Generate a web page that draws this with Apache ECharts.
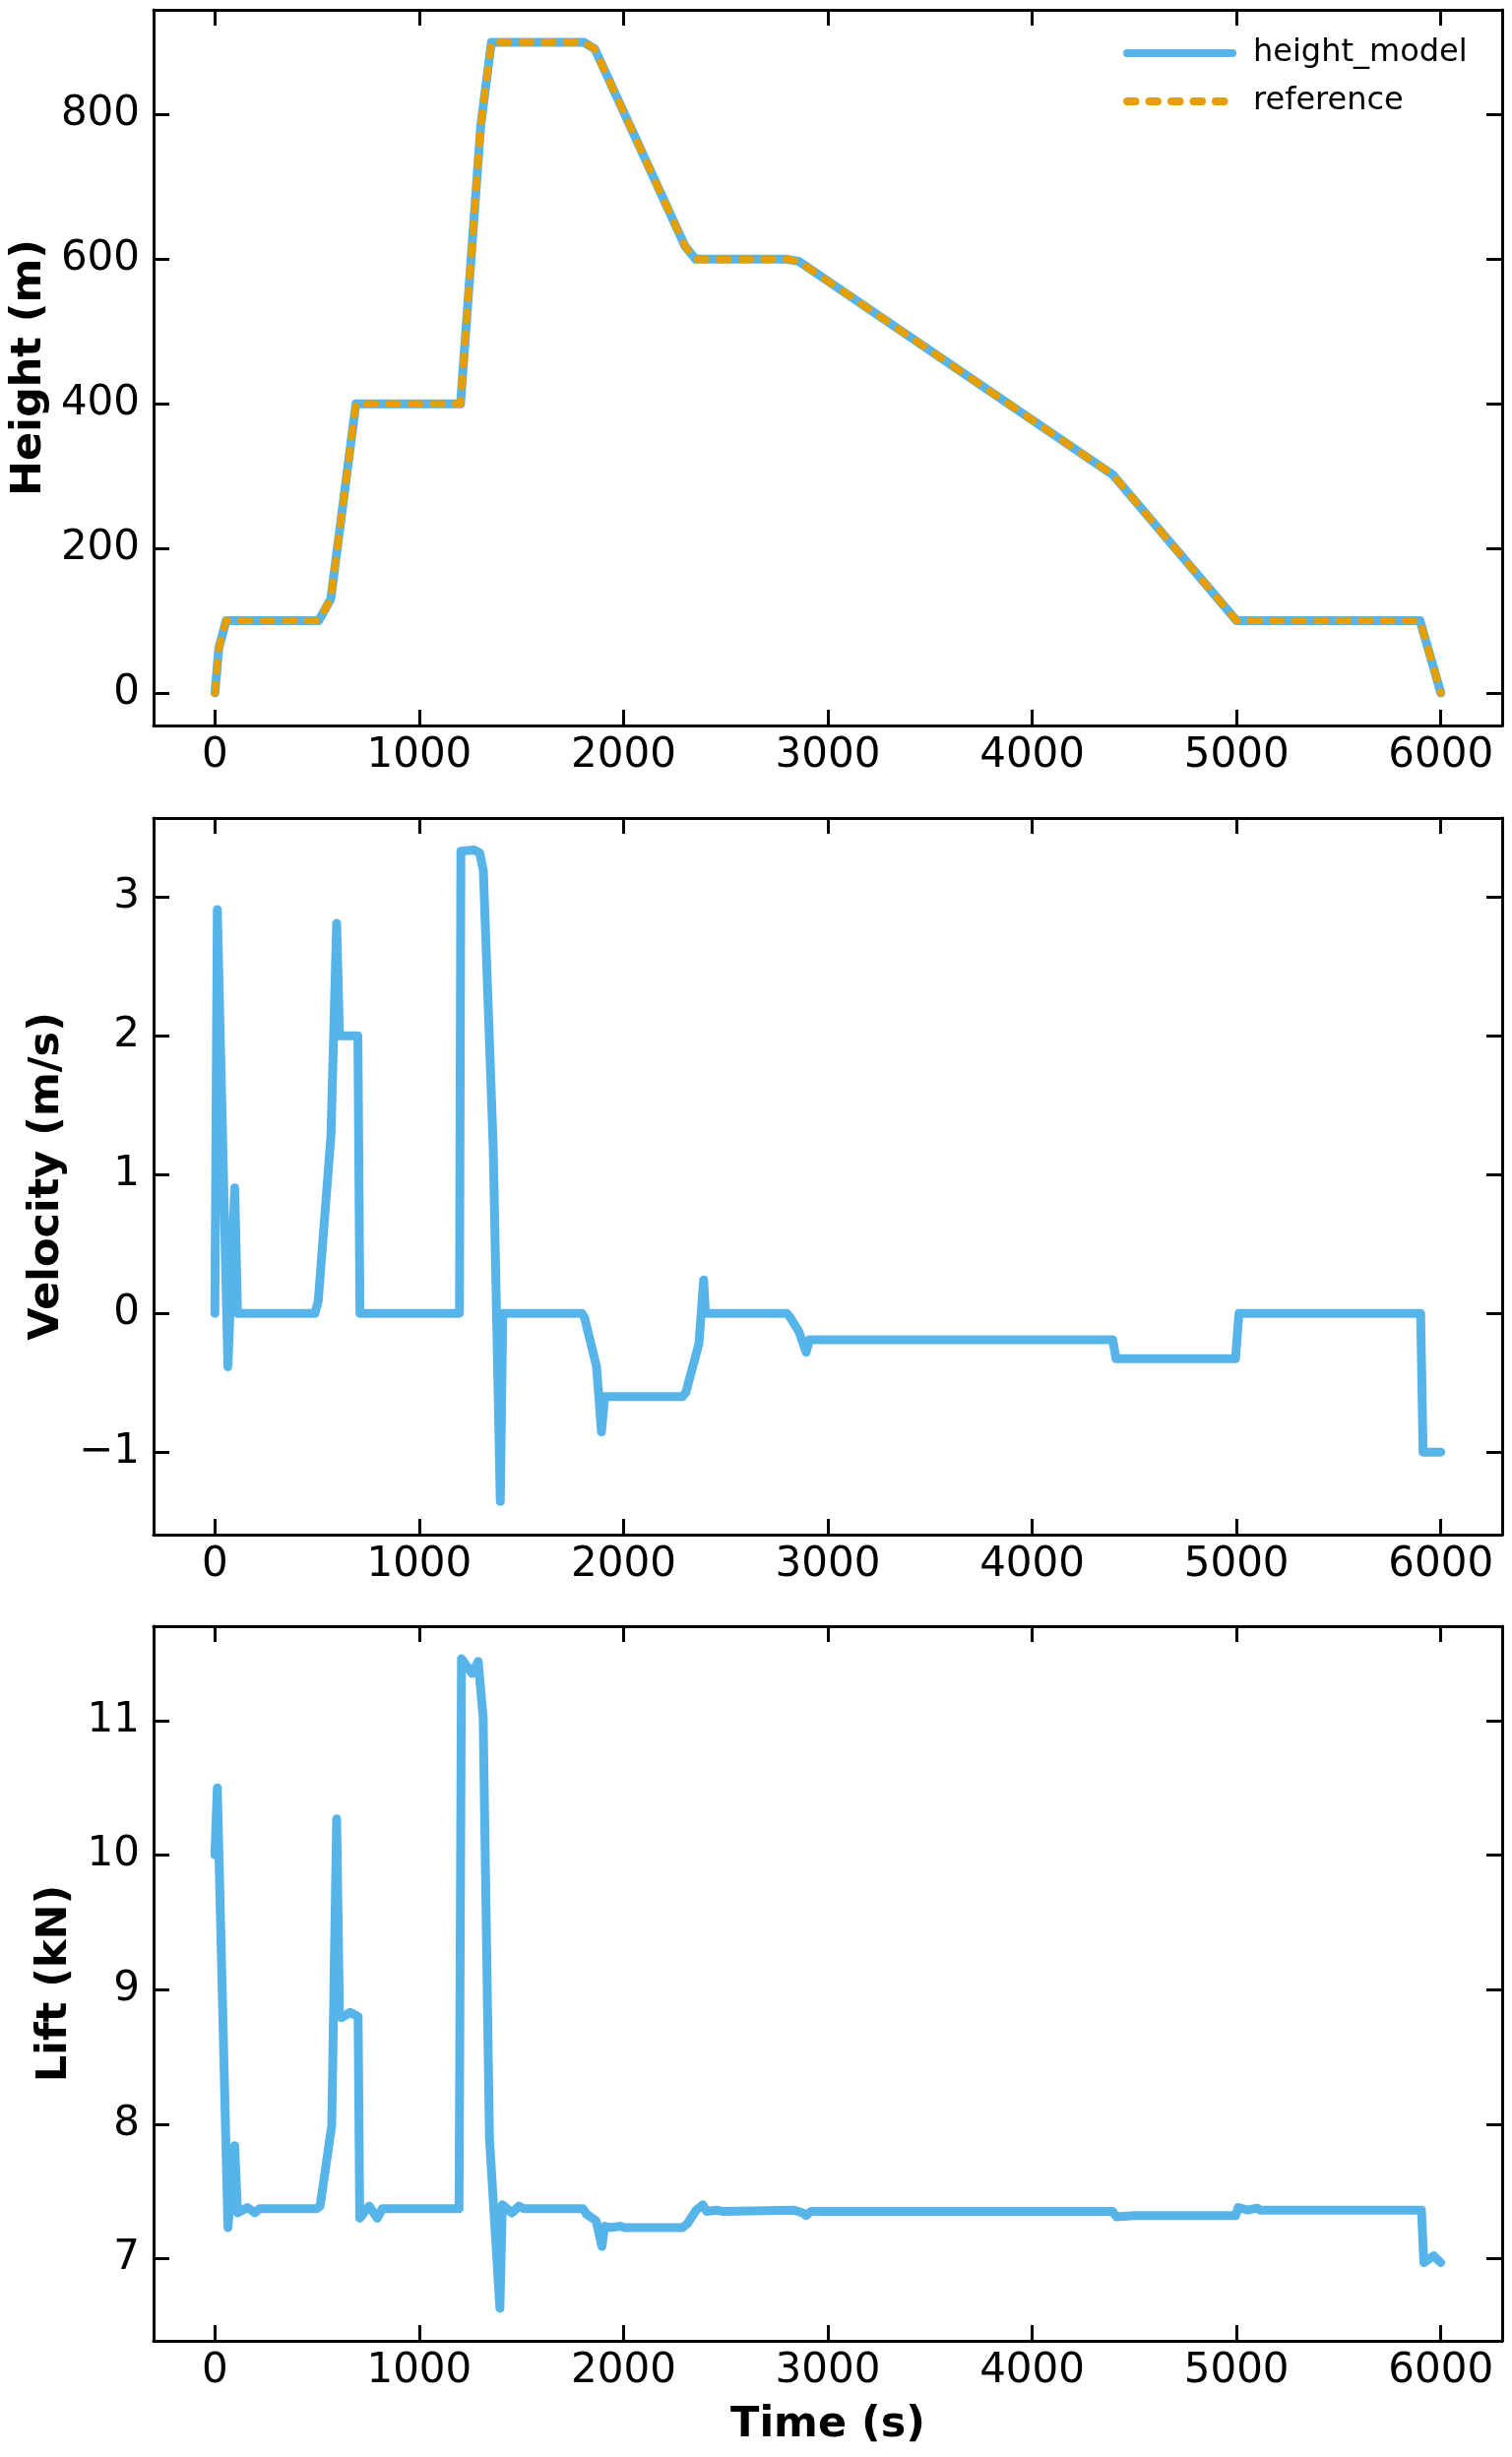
<!DOCTYPE html>
<html>
<head>
<meta charset="utf-8">
<script src="https://cdn.jsdelivr.net/npm/echarts@6/dist/echarts.min.js"></script>
<style>
  html, body { margin: 0; padding: 0; background: #fff; }
  #chart { width: 1536px; height: 2496px; }
</style>
</head>
<body>
<div id="chart"></div>
<script>
// 高度曲线（模型与参考）
const heightTime = [0, 19, 55, 508, 567, 690, 1202, 1301, 1353, 1807, 1859, 2301, 2353, 2799, 2858, 4394, 5000, 5898, 6000];
const heightRef = [0, 62, 100, 100, 130, 400, 400, 785, 900, 900, 891, 618, 600, 600, 597, 302, 100, 100, 0];
const heightModel = [0, 62, 100, 100, 130, 400, 400, 785, 900, 900, 891, 618, 600, 600, 597, 302, 100, 100, 0];

// 速度
const velTime = [0, 12, 64, 97, 111, 490, 506, 568, 596, 610, 700, 710, 1197, 1204, 1267, 1296, 1314, 1362, 1397, 1409,
  1797, 1809, 1868, 1892, 1908, 2288, 2305, 2369, 2392, 2401, 2799, 2816, 2858, 2894, 2910, 4394, 4410, 4995, 5012, 5901,
  5913, 6000];
const velocity = [0, 2.91, -0.385, 0.905, 0, 0, 0.09, 1.28, 2.81, 2.0, 2.0, 0, 0, 3.33, 3.34, 3.32, 3.19, 1.21, -1.356, 0,
  0, -0.03, -0.385, -0.855, -0.6, -0.6, -0.57, -0.22, 0.24, 0, 0, -0.03, -0.13, -0.28, -0.19, -0.19, -0.326, -0.326, 0, 0,
  -1, -1];

// 升力
const liftTime = [0, 12, 20, 64, 97, 111, 160, 195, 219, 497, 515, 572, 596, 610, 620, 661, 701, 709, 755, 795,
  819, 1195, 1207, 1259, 1289, 1313, 1344, 1395, 1407, 1454, 1489, 1513, 1802, 1819, 1866, 1894, 1908, 1936, 1983, 2007,
  2289, 2313, 2355, 2388, 2407, 2454, 2489, 2835, 2877, 2894, 2917, 4394, 4413, 4500, 4996, 5008, 5055, 5102, 5113, 5905,
  5917, 5965, 6000];
const lift = [10.0, 10.5, 10.0, 7.23, 7.84, 7.34, 7.38, 7.34, 7.37, 7.37, 7.39, 7.99, 10.27, 8.80, 8.79, 8.83, 8.80, 7.30, 7.39, 7.30,
  7.37, 7.37, 11.46, 11.35, 11.44, 11.02, 7.89, 6.63, 7.40, 7.34, 7.39, 7.37, 7.37, 7.33, 7.28, 7.09, 7.24, 7.23, 7.24, 7.23,
  7.23, 7.26, 7.36, 7.40, 7.35, 7.36, 7.35, 7.36, 7.34, 7.32, 7.35, 7.35, 7.31, 7.32, 7.32, 7.38, 7.36, 7.375, 7.36, 7.36,
  6.97, 7.02, 6.97];

// 刻度
const timeTicks = [0, 1000, 2000, 3000, 4000, 5000, 6000];
const heightTicks = [0, 200, 400, 600, 800];
const velTicks = [-1, 0, 1, 2, 3];
const liftTicks = [7, 8, 9, 10, 11];

const FONT = 'DejaVu Sans';
const BLUE = '#56B4E9';
const ORANGE = '#E69F00';
const DASH = [8.5, 14];

function pairs(xs, ys) {
  return xs.map((x, i) => [x, ys[i]]);
}

// 负号用 unicode minus
function fmt(v) {
  return String(v).replace('-', '\u2212');
}

const lineAxis = { show: true, onZero: false, lineStyle: { color: '#000', width: 3 } };

function makeX(gridIndex, position, showLabel, name) {
  return {
    type: 'value', gridIndex: gridIndex, position: position,
    min: -300, max: 6300,
    axisLine: lineAxis,
    axisTick: { show: true, inside: true, length: 16, lineStyle: { color: '#000', width: 3 }, customValues: timeTicks },
    axisLabel: { show: showLabel, customValues: timeTicks, formatter: fmt, color: '#000', fontFamily: FONT, fontSize: 42, margin: 10 },
    splitLine: { show: false },
    name: name || '',
    nameLocation: 'middle',
    nameGap: 64,
    nameTextStyle: { color: '#000', fontFamily: FONT, fontSize: 43, fontWeight: 'bold' }
  };
}

function makeY(gridIndex, position, showLabel, min, max, ticks, name, gap) {
  return {
    type: 'value', gridIndex: gridIndex, position: position,
    min: min, max: max,
    axisLine: lineAxis,
    axisTick: { show: true, inside: true, length: 16, lineStyle: { color: '#000', width: 3 }, customValues: ticks },
    axisLabel: { show: showLabel, customValues: ticks, formatter: fmt, color: '#000', fontFamily: FONT, fontSize: 42, margin: 14 },
    splitLine: { show: false },
    name: name || '',
    nameLocation: 'middle',
    nameRotate: 90,
    nameGap: gap || 0,
    nameTextStyle: { color: '#000', fontFamily: FONT, fontSize: 43, fontWeight: 'bold' }
  };
}

function lineSeries(name, xi, yi, data, color, width, type, z) {
  return {
    name: name, type: 'line', xAxisIndex: xi, yAxisIndex: yi,
    data: data, symbol: 'none', showSymbol: false, z: z,
    lineStyle: { color: color, width: width, type: type, cap: 'round', join: 'round' },
    itemStyle: { color: color },
    emphasis: { disabled: true }
  };
}

const chart = echarts.init(document.getElementById('chart'));

const option = {
  animation: false,
  backgroundColor: '#fff',
  grid: [
    { left: 156, width: 1370, top: 10, height: 727 },
    { left: 156, width: 1370, top: 831, height: 728 },
    { left: 156, width: 1370, top: 1652, height: 726 }
  ],
  xAxis: [
    makeX(0, 'bottom', true),
    makeX(0, 'top', false),
    makeX(1, 'bottom', true),
    makeX(1, 'top', false),
    makeX(2, 'bottom', true, 'Time (s)'),
    makeX(2, 'top', false)
  ],
  yAxis: [
    makeY(0, 'left', true, -45, 945, heightTicks, 'Height (m)', 102),
    makeY(0, 'right', false, -45, 945, heightTicks),
    makeY(1, 'left', true, -1.595, 3.57, velTicks, 'Velocity (m/s)', 80),
    makeY(1, 'right', false, -1.595, 3.57, velTicks),
    makeY(2, 'left', true, 6.388, 11.702, liftTicks, 'Lift (kN)', 74),
    makeY(2, 'right', false, 6.388, 11.702, liftTicks)
  ],
  legend: {
    orient: 'vertical',
    left: 1136, top: 33,
    itemWidth: 107, itemHeight: 9, itemGap: 17,
    data: [
      { name: 'height_model', itemStyle: { opacity: 0 }, lineStyle: { color: BLUE, width: 8, type: 'solid', cap: 'round' } },
      { name: 'reference', itemStyle: { opacity: 0 }, lineStyle: { color: ORANGE, width: 8, type: DASH, cap: 'round' } }
    ],
    textStyle: { color: '#000', fontFamily: FONT, fontSize: 32, padding: [0, 0, 0, 16] }
  },
  series: [
    lineSeries('height_model', 0, 0, pairs(heightTime, heightModel), BLUE, 9, 'solid', 2),
    lineSeries('reference', 0, 0, pairs(heightTime, heightRef), ORANGE, 7.5, DASH, 3),
    lineSeries('velocity', 2, 2, pairs(velTime, velocity), BLUE, 9, 'solid', 2),
    lineSeries('lift', 4, 4, pairs(liftTime, lift), BLUE, 9, 'solid', 2)
  ]
};

chart.setOption(option);
</script>
</body>
</html>
